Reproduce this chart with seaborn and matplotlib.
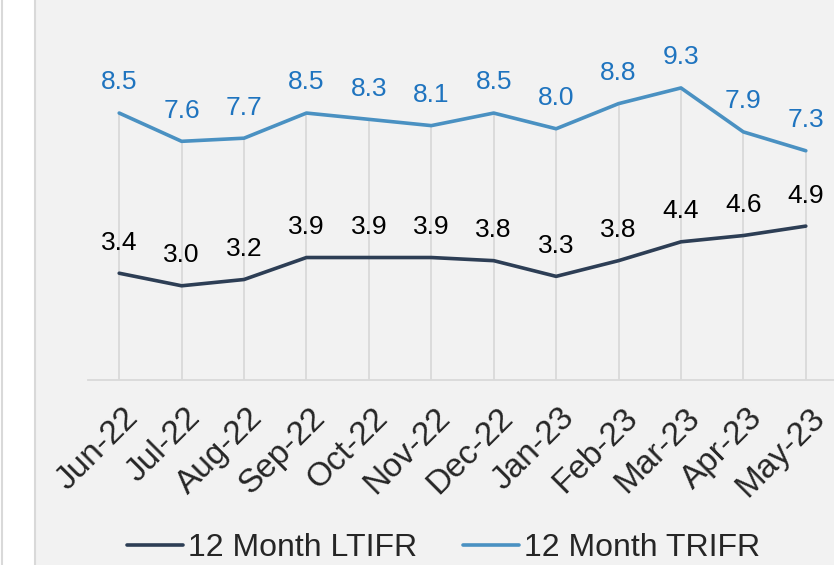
import pandas as pd
import matplotlib
matplotlib.use("Agg")
import matplotlib.pyplot as plt
import matplotlib.transforms as mtrans
import seaborn as sns
from matplotlib.patches import Rectangle
from matplotlib.lines import Line2D

# DATA
months = ["Jun-22", "Jul-22", "Aug-22", "Sep-22", "Oct-22", "Nov-22",
          "Dec-22", "Jan-23", "Feb-23", "Mar-23", "Apr-23", "May-23"]
ltifr = [3.4, 3.0, 3.2, 3.9, 3.9, 3.9, 3.8, 3.3, 3.8, 4.4, 4.6, 4.9]
trifr = [8.5, 7.6, 7.7, 8.5, 8.3, 8.1, 8.5, 8.0, 8.8, 9.3, 7.9, 7.3]

BG = "#f2f2f2"
GRID = "#d9d9d9"
C_LT = "#2d3e55"
C_TR = "#4a91c2"
C_TR_TXT = "#1f74bf"

sns.set_style("white")
plt.rcParams["font.family"] = ["Liberation Sans", "DejaVu Sans"]

df = pd.DataFrame({"pos": range(len(months)), "month": months,
                   "ltifr": ltifr, "trifr": trifr})

fig = plt.figure(figsize=(8.34, 5.65), dpi=100, facecolor=BG)
# white strip on the left
fig.patches.append(Rectangle((0, 0), 34 / 834, 1, transform=fig.transFigure,
                             facecolor="white", edgecolor="none", zorder=0))
fig.add_artist(Line2D([34.5 / 834] * 2, [0, 1], transform=fig.transFigure,
                      color=GRID, lw=1.5))
fig.add_artist(Line2D([1.5 / 834] * 2, [0, 1], transform=fig.transFigure,
                      color=GRID, lw=1.5))

ax = fig.add_axes([88 / 834, (565 - 380) / 565, (837 - 88) / 834, 380 / 565])
ax.set_facecolor(BG)

# drop lines
ax.vlines(df["pos"], 0, df["trifr"], color=GRID, lw=1.3, zorder=1)

sns.lineplot(data=df, x="pos", y="ltifr", ax=ax, color=C_LT, lw=2.6,
             label="12 Month LTIFR", zorder=3)
sns.lineplot(data=df, x="pos", y="trifr", ax=ax, color=C_TR, lw=2.6,
             label="12 Month TRIFR", zorder=3)

for x, v in zip(df["pos"], df["ltifr"]):
    ax.annotate(f"{v:.1f}", (x, v), xytext=(0, 17), textcoords="offset points",
                ha="center", va="baseline", fontsize=19, color="black")
for x, v in zip(df["pos"], df["trifr"]):
    ax.annotate(f"{v:.1f}", (x, v), xytext=(0, 17), textcoords="offset points",
                ha="center", va="baseline", fontsize=19, color=C_TR_TXT)

ax.set_xlim(-0.5, 11.5)
ax.set_ylim(0, 12.1)
ax.set_xlabel("")
ax.set_ylabel("")
ax.set_yticks([])
ax.set_xticks(df["pos"])
ax.set_xticklabels(months, rotation=45, ha="right", rotation_mode="anchor",
                   fontsize=24)
ax.tick_params(axis="x", which="major", length=0, pad=16)
shift = mtrans.ScaledTranslation(3 / 100, 0, fig.dpi_scale_trans)
for lab in ax.get_xticklabels():
    lab.set_transform(lab.get_transform() + shift)
ax.set_xticks([i - 0.5 for i in range(len(months) + 1)], minor=True)
ax.tick_params(axis="x", which="minor", length=7, width=1.3, color=GRID,
               direction="out")
for s in ["top", "right", "left"]:
    ax.spines[s].set_visible(False)
ax.spines["bottom"].set_color(GRID)
ax.spines["bottom"].set_linewidth(1.3)

ax.get_legend().remove()
fig.legend(*ax.get_legend_handles_labels(), loc="center",
           bbox_to_anchor=(0.532, (565 - 548) / 565), ncol=2, frameon=False,
           fontsize=23, handlelength=1.75, handletextpad=0.15,
           columnspacing=1.45, borderpad=0)

fig.savefig("out.png", dpi=100, facecolor=BG)
